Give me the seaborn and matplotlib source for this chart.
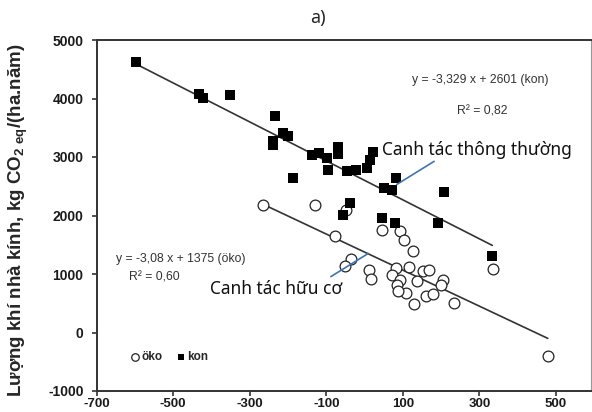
import matplotlib
matplotlib.use("Agg")
import matplotlib.pyplot as plt
import seaborn as sns
import numpy as np
import pandas as pd

# ---- data ----
kon_x = [-597, -432, -423, -352, -234, -238, -238, -212, -199, -186, -138, -119, -97, -95,
         -70, -70, -46, -23, 6, 14, 22, 52, 73, 82, -38, -55, 45, 80, 193, 209, 334]
kon_y = [4620, 4075, 4006, 4063, 3693, 3267, 3210, 3410, 3352, 2643, 3040, 3068, 2984, 2784,
         3170, 3050, 2755, 2784, 2813, 2955, 3080, 2472, 2443, 2643, 2216, 2017, 1961, 1876, 1876, 2400, 1307]
oko_x = [-266, -129, -48, -78, 45, 93, 104, 127, -36, -51, 11, 16, 82, 117, 73, 93, 86,
         154, 169, 137, 109, 88, 162, 178, 130, 205, 199, 235, 336, 479]
oko_y = [2176, 2172, 2090, 1642, 1756, 1734, 1580, 1392, 1262, 1136, 1074, 921, 1108, 1125, 986, 904, 807,
         1050, 1060, 881, 668, 710, 620, 654, 488, 898, 815, 498, 1091, -404]
kon_slope, kon_icpt = -3.329, 2601
oko_slope, oko_icpt = -3.08, 1375
x_ticks = [-700, -500, -300, -100, 100, 300, 500]
y_ticks = [-1000, 0, 1000, 2000, 3000, 4000, 5000]

sns.set_style("ticks")
plt.rcParams['font.family'] = ['Liberation Sans', 'DejaVu Sans']
plt.rcParams['axes.unicode_minus'] = False
plt.rcParams['mathtext.fontset'] = 'custom'
plt.rcParams['mathtext.rm'] = 'Liberation Sans:bold'
plt.rcParams['mathtext.bf'] = 'Liberation Sans:bold'

fig = plt.figure(figsize=(5.92, 4.12), dpi=100)
ax = fig.add_axes([96.7/592, 1-391/412, (591-96.7)/592, (391-40)/412])

df_kon = pd.DataFrame({"x": kon_x, "y": kon_y})
df_oko = pd.DataFrame({"x": oko_x, "y": oko_y})

# regression lines
lx_kon = np.array([min(kon_x), max(kon_x)])
lx_oko = np.array([min(oko_x), max(oko_x)])
sns.lineplot(x=lx_kon, y=kon_slope*lx_kon+kon_icpt, ax=ax, color="#333333", lw=1.2, zorder=2)
sns.lineplot(x=lx_oko, y=oko_slope*lx_oko+oko_icpt, ax=ax, color="#333333", lw=1.2, zorder=2)

sns.scatterplot(data=df_oko, x="x", y="y", ax=ax, marker="o", s=60, facecolor="white",
                edgecolor="#222222", linewidth=0.9, label="öko", zorder=3)
sns.scatterplot(data=df_kon, x="x", y="y", ax=ax, marker="s", s=45, color="black",
                edgecolor="black", linewidth=0, label="kon", zorder=4)

ax.set_xlim(-700, 592)
ax.set_ylim(-1000, 5000)
ax.set_xticks(x_ticks)
ax.set_yticks(y_ticks)
ax.set_xlabel("")
ax.set_ylabel("")
ax.tick_params(axis='both', direction='out', length=3.5, width=1.2, color="#333333",
               labelsize=10, labelcolor="#1a1a1a")
ax.tick_params(axis='y', pad=6)
ax.tick_params(axis='x', pad=1.5, labelsize=9.5)
for lab in ax.get_xticklabels() + ax.get_yticklabels():
    lab.set_fontweight('bold')
for s in ['left', 'bottom', 'top']:
    ax.spines[s].set_color("#333333")
    ax.spines[s].set_linewidth(1.4)
ax.spines['right'].set_color("#999999")
ax.spines['right'].set_linewidth(0.8)

leg = ax.legend(loc='center left', bbox_to_anchor=(0.045, 0.097), ncol=2, frameon=False,
                handletextpad=0.05, columnspacing=1.0, markerscale=0.7, handlelength=1.0,
                prop={'weight': 'bold', 'size': 8.5, 'family': 'Liberation Sans'})

# equations
ax.text(0.775, 0.886, "y = -3,329 x + 2601 (kon)", transform=ax.transAxes, ha='center', va='center',
        fontsize=8.8, color="#333333")
ax.text(0.78, 0.795, "R² = 0,82", transform=ax.transAxes, ha='center', va='center',
        fontsize=8.8, color="#333333")
ax.text(0.17, 0.376, "y = -3,08 x + 1375 (öko)", transform=ax.transAxes, ha='center', va='center',
        fontsize=8.8, color="#333333")
ax.text(0.117, 0.322, "R² = 0,60", transform=ax.transAxes, ha='center', va='center',
        fontsize=8.8, color="#333333")

# annotations
ax.text(0.577, 0.672, "Canh tác thông thường", transform=ax.transAxes, ha='left', va='baseline',
        fontsize=12.5, family=['Noto Sans', 'DejaVu Sans'], color="#111111")
ax.text(0.229, 0.276, "Canh tác hữu cơ", transform=ax.transAxes, ha='left', va='baseline',
        fontsize=12.5, family=['Noto Sans', 'DejaVu Sans'], color="#111111")
ax.plot([182, 84], [2926, 2529], color="#3f74b0", lw=1.2, zorder=5)
ax.plot([-88, 10], [955, 1352], color="#3f74b0", lw=1.2, zorder=5)

fig.text(318/592, 1-17.5/412, "a)", ha='center', va='center', fontsize=13,
         family=['Noto Sans', 'DejaVu Sans'])
fig.text(18/592, 1-220/412, r"Lượng khí nhà kính, kg CO$_{\mathbf{2\ eq}}$/(ha.năm)", rotation=90,
         ha='center', va='center', fontsize=13.5, fontweight='bold',
         family=['Liberation Sans', 'DejaVu Sans'])

fig.savefig("out.png", dpi=100)
